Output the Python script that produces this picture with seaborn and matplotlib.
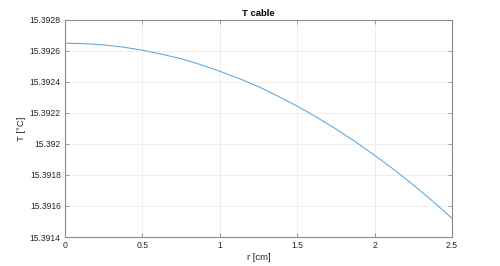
import matplotlib
matplotlib.use("Agg")
import matplotlib.pyplot as plt
import seaborn as sns
import pandas as pd

r_cm = [0, 0.125, 0.25, 0.375, 0.5, 0.625, 0.75, 0.875, 1.0, 1.125, 1.25,
        1.375, 1.5, 1.625, 1.75, 1.875, 2.0, 2.125, 2.25, 2.375, 2.5]
T_c = [15.39265, 15.392647, 15.392639, 15.392625, 15.392605, 15.392579,
       15.39255, 15.392512, 15.392469, 15.392422, 15.39237, 15.392309,
       15.392244, 15.392173, 15.392097, 15.392015, 15.391927, 15.391835,
       15.391736, 15.391631, 15.391521]
x_ticks = [0, 0.5, 1, 1.5, 2, 2.5]
y_ticks = [15.3914, 15.3916, 15.3918, 15.392, 15.3922, 15.3924, 15.3926, 15.3928]
y_labels = ["15.3914", "15.3916", "15.3918", "15.392", "15.3922", "15.3924", "15.3926", "15.3928"]

sns.set_theme(style="white")
plt.rcParams['font.family'] = ['Liberation Sans', 'DejaVu Sans']

df = pd.DataFrame({"r": r_cm, "T": T_c})

fig = plt.figure(figsize=(5.0, 2.66), dpi=100)
ax = fig.add_axes([0.13, 0.109, 0.774, 0.816])
sns.lineplot(data=df, x="r", y="T", ax=ax, color="#62ACE3", linewidth=0.8)

ax.set_xlim(0, 2.5)
ax.set_ylim(15.3914, 15.3928)
ax.set_xticks(x_ticks)
ax.set_xticklabels([("%g" % v) for v in x_ticks])
ax.set_yticks(y_ticks)
ax.set_yticklabels(y_labels)
ax.grid(True, color="#ebebeb", linewidth=0.6)
ax.set_axisbelow(True)
for s in ax.spines.values():
    s.set_color("#8c8c8c")
    s.set_linewidth(0.8)
    s.set_visible(True)
ax.tick_params(direction="in", length=3, width=0.6, color="#8c8c8c",
               labelsize=6.2, labelcolor="#262626", top=True, right=True,
               bottom=True, left=True, pad=3)
ax.set_xlabel("r [cm]", fontsize=6.8, color="#262626", labelpad=2)
ax.set_ylabel("T [°C]", fontsize=6.8, color="#262626", labelpad=3)
ax.set_title("T cable", fontsize=6.8, fontweight="bold", color="#000000", pad=3)

fig.savefig("out.png", dpi=100)
